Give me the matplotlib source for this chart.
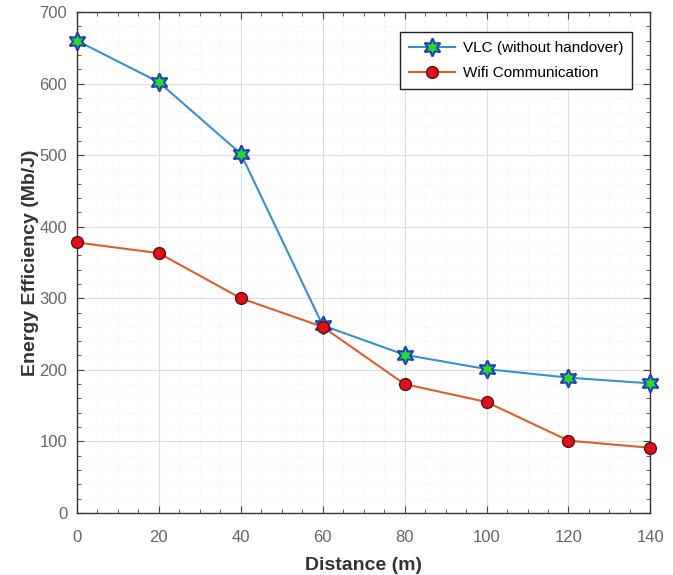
import matplotlib
matplotlib.use("Agg")
import matplotlib.pyplot as plt
from matplotlib.ticker import MultipleLocator

# data
distance = [0, 20, 40, 60, 80, 100, 120, 140]
vlc = [660, 602, 502, 262, 221, 201, 189, 181]
wifi = [378, 363, 300, 260, 180, 155, 101, 91]

plt.rcParams['font.family'] = ['Liberation Sans', 'DejaVu Sans']

fig = plt.figure(figsize=(6.73, 5.75), dpi=100)
ax = fig.add_axes([0.1144, 0.108, 0.852, 0.871])

ax.plot(distance, vlc, color='#3a8fd0', lw=1.5, marker=(6, 1, 0), ms=13,
        markerfacecolor='#22dd22', markeredgecolor='#1f3fbf', markeredgewidth=1.5,
        label='VLC (without handover)', zorder=3, clip_on=False)
ax.plot(distance, wifi, color='#d9602a', lw=1.5, marker='o', ms=8.5,
        markerfacecolor='#e0101a', markeredgecolor='#5a1010', markeredgewidth=1.0,
        label='Wifi Communication', zorder=3, clip_on=False)

ax.set_xlim(0, 140)
ax.set_ylim(0, 700)
ax.xaxis.set_major_locator(MultipleLocator(20))
ax.xaxis.set_minor_locator(MultipleLocator(5))
ax.yaxis.set_major_locator(MultipleLocator(100))
ax.yaxis.set_minor_locator(MultipleLocator(20))
ax.grid(which='major', color='#dcdcdc', lw=0.8)
ax.grid(which='minor', color='#eeeeee', lw=0.6, ls=':')
ax.tick_params(which='both', direction='in', top=True, right=True,
               labelsize=12, labelcolor='#666666', color='#444444')
ax.tick_params(which='major', length=5)
ax.tick_params(axis='x', which='major', pad=12)
ax.tick_params(axis='y', which='major', pad=7)
ax.tick_params(which='minor', length=3)
for s in ax.spines.values():
    s.set_color('#333333')
    s.set_linewidth(1.0)

ax.set_xlabel('Distance (m)', fontsize=14, fontweight='bold', color='#333333', labelpad=9)
ax.set_ylabel('Energy Efficiency (Mb/J)', fontsize=14, fontweight='bold', color='#333333',
              labelpad=0)

leg = ax.legend(loc='upper right', bbox_to_anchor=(0.9686, 0.960), borderaxespad=0,
                fontsize=11, fancybox=False, edgecolor='#222222', framealpha=1,
                handlelength=3.0, handletextpad=0.5, borderpad=0.6, labelspacing=0.7)
leg.get_frame().set_linewidth(1.0)

fig.savefig('out.png', dpi=100)
